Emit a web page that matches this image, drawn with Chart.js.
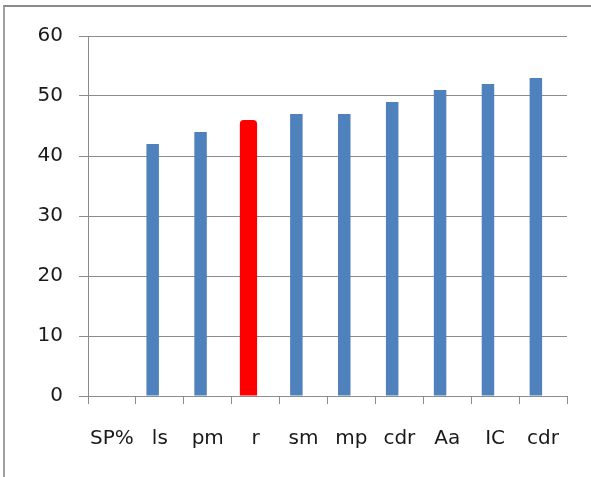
<!DOCTYPE html>
<html>
<head>
<meta charset="utf-8">
<script src="https://cdn.jsdelivr.net/npm/chart.js@4"></script>
<style>
  html, body { margin: 0; padding: 0; background: #fff; }
  #wrap { position: relative; width: 591px; height: 477px; }
  #frame { position: absolute; left: 3px; top: 5px; right: 0; bottom: 0;
           border-top: 2px solid #8a8a8a; border-left: 2px solid #a0a0a0; }
  canvas { position: absolute; left: 0; top: 0; }
</style>
</head>
<body>
<div id="wrap">
  <div id="frame"></div>
  <canvas id="chart" width="591" height="477"></canvas>
</div>
<script>
const categories = ["SP%", "ls", "pm", "r", "sm", "mp", "cdr", "Aa", "IC", "cdr"];
const values = [null, 42, 44, 46, 47, 47, 49, 51, 52, 53];
const highlightIndex = 3;
const yTicks = [0, 10, 20, 30, 40, 50, 60];

const blueData = values.map((v, i) => i === highlightIndex ? null : v);
const redData = values.map((v, i) => i === highlightIndex ? v : null);
// second (empty) series, like the spreadsheet, keeps the bars left of centre
const emptySeries = values.map(() => 0);

const gridColor = "#8c8c8c";
const font = { family: "DejaVu Sans", size: 20 };

new Chart("chart", {
  type: "bar",
  data: {
    labels: categories,
    datasets: [
      { data: blueData, backgroundColor: "#4f81bd", barPercentage: 0.87, categoryPercentage: 0.6 },
      { data: redData, backgroundColor: "#ff0000", barPercentage: 1.2, categoryPercentage: 0.6,
        borderRadius: { topLeft: 4, topRight: 4 }, borderSkipped: "bottom" },
      { data: emptySeries, backgroundColor: "rgba(0,0,0,0)", barPercentage: 0.87, categoryPercentage: 0.6 }
    ]
  },
  options: {
    responsive: false,
    animation: false,
    skipNull: true,
    layout: { padding: { top: 36, right: 24, left: 0, bottom: 0 } },
    plugins: { legend: { display: false }, tooltip: { enabled: false } },
    scales: {
      x: {
        grid: { drawOnChartArea: false, offset: true, color: gridColor, tickLength: 8 },
        border: { color: gridColor },
        ticks: { color: "#1a1a1a", font: font, padding: 23, maxRotation: 0, autoSkip: false },
        afterFit: s => { s.height = 81; }
      },
      y: {
        min: 0,
        max: 60,
        afterBuildTicks: s => { s.ticks = yTicks.map(v => ({ value: v })); },
        grid: { color: gridColor, tickLength: 9 },
        border: { color: gridColor },
        ticks: { color: "#1a1a1a", font: font, padding: 16 },
        afterFit: s => { s.width = 88; }
      }
    }
  }
});
</script>
</body>
</html>
